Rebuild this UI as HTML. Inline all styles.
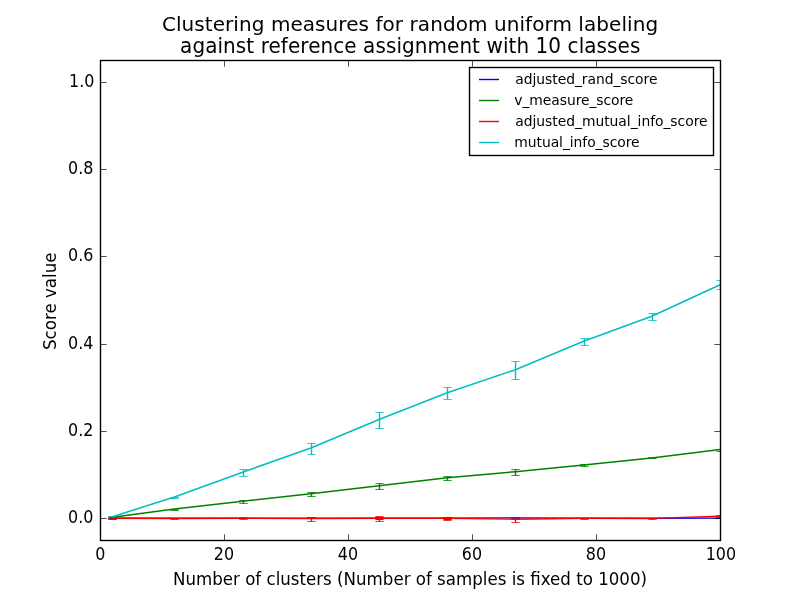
<!DOCTYPE html>
<html><head><meta charset="utf-8"><title>Clustering measures</title>
<style>
html,body{margin:0;padding:0;background:#fff;}
svg{display:block;}
text{font-family:"DejaVu Sans","Liberation Sans",sans-serif;fill:#000;}
.t12{font-size:16.67px;}
.t14{font-size:20px;}
.t10{font-size:13.89px;}
</style></head><body>
<svg width="800" height="600" viewBox="0 0 800 600">
<defs><clipPath id="axclip"><rect x="100.5" y="60.5" width="620" height="480"/></clipPath></defs>
<rect width="800" height="600" fill="#fff"/>
<g clip-path="url(#axclip)">
<polyline points="112.40,518.15 174.40,518.15 242.60,518.15 310.80,518.15 379.00,518.15 447.20,518.15 515.40,517.90 583.60,518.15 651.80,518.20 720.00,518.10" fill="none" stroke="#0000ff" stroke-width="1.39" stroke-linejoin="round"/>
<path d="M112.50 518.50V519.50M174.50 518.50V518.50M243.50 518.50V518.50M311.50 517.50V518.50M379.50 517.50V519.50M447.50 517.50V519.50M515.50 517.50V518.50M584.50 518.50V518.50M652.50 518.50V518.50M720.50 518.50V518.50" fill="none" stroke="#0000ff" stroke-width="1.39"/>
<path d="M108.33 518.50h8.34M108.33 519.50h8.34M170.33 518.50h8.34M170.33 518.50h8.34M239.33 518.50h8.34M239.33 518.50h8.34M307.33 517.50h8.34M307.33 518.50h8.34M375.33 517.50h8.34M375.33 519.50h8.34M443.33 517.50h8.34M443.33 519.50h8.34M511.33 517.50h8.34M511.33 518.50h8.34M580.33 518.50h8.34M580.33 518.50h8.34M648.33 518.50h8.34M648.33 518.50h8.34M716.33 518.50h8.34M716.33 518.50h8.34" fill="none" stroke="#0000ff" stroke-width="0.8"/>
<polyline points="112.40,517.30 174.40,508.90 242.60,501.30 310.80,493.70 379.00,485.70 447.20,477.80 515.40,471.70 583.60,465.10 651.80,457.90 720.00,449.60" fill="none" stroke="#008000" stroke-width="1.5" stroke-linejoin="round"/>
<path d="M112.50 517.50V517.50M174.50 509.50V510.50M243.50 500.50V503.50M311.50 492.50V496.50M379.50 483.50V489.50M447.50 476.50V480.50M515.50 469.50V475.50M584.50 464.50V466.50M652.50 457.50V458.50M720.50 449.50V451.50" fill="none" stroke="#008000" stroke-width="1.39"/>
<path d="M108.33 517.50h8.34M108.33 517.50h8.34M170.33 509.50h8.34M170.33 510.50h8.34M239.33 500.50h8.34M239.33 503.50h8.34M307.33 492.50h8.34M307.33 496.50h8.34M375.33 483.50h8.34M375.33 489.50h8.34M443.33 476.50h8.34M443.33 480.50h8.34M511.33 469.50h8.34M511.33 475.50h8.34M580.33 464.50h8.34M580.33 466.50h8.34M648.33 457.50h8.34M648.33 458.50h8.34M716.33 449.50h8.34M716.33 451.50h8.34" fill="none" stroke="#008000" stroke-width="0.8"/>
<polyline points="112.40,518.30 174.40,518.40 242.60,518.30 310.80,518.60 379.00,518.30 447.20,518.30 515.40,519.20 583.60,518.30 651.80,518.40 720.00,516.20" fill="none" stroke="#ff0000" stroke-width="1.45" stroke-linejoin="round"/>
<path d="M112.50 518.50V519.50M174.50 518.50V519.50M243.50 517.50V519.50M311.50 517.50V521.50M379.50 516.50V521.50M447.50 517.50V520.50M515.50 517.50V522.50M584.50 518.50V519.50M652.50 518.50V519.50M720.50 515.50V517.50" fill="none" stroke="#ff0000" stroke-width="1.39"/>
<path d="M108.33 518.50h8.34M108.33 519.50h8.34M170.33 518.50h8.34M170.33 519.50h8.34M239.33 517.50h8.34M239.33 519.50h8.34M307.33 517.50h8.34M307.33 521.50h8.34M375.33 516.50h8.34M375.33 521.50h8.34M443.33 517.50h8.34M443.33 520.50h8.34M511.33 517.50h8.34M511.33 522.50h8.34M580.33 518.50h8.34M580.33 519.50h8.34M648.33 518.50h8.34M648.33 519.50h8.34M716.33 515.50h8.34M716.33 517.50h8.34" fill="none" stroke="#ff0000" stroke-width="0.8"/>
<polyline points="112.40,516.70 174.40,497.00 242.60,472.20 310.80,448.00 379.00,419.50 447.20,392.80 515.40,369.70 583.60,341.30 651.80,316.20 720.00,284.80" fill="none" stroke="#00bfbf" stroke-width="1.5" stroke-linejoin="round"/>
<path d="M112.50 516.50V516.50M174.50 497.50V498.50M243.50 469.50V476.50M311.50 443.50V454.50M379.50 412.50V428.50M447.50 387.50V399.50M515.50 361.50V379.50M584.50 338.50V345.50M652.50 313.50V320.50M720.50 280.50V289.50" fill="none" stroke="#00bfbf" stroke-width="1.39"/>
<path d="M108.33 516.50h8.34M108.33 516.50h8.34M170.33 497.50h8.34M170.33 498.50h8.34M239.33 469.50h8.34M239.33 476.50h8.34M307.33 443.50h8.34M307.33 454.50h8.34M375.33 412.50h8.34M375.33 428.50h8.34M443.33 387.50h8.34M443.33 399.50h8.34M511.33 361.50h8.34M511.33 379.50h8.34M580.33 338.50h8.34M580.33 345.50h8.34M648.33 313.50h8.34M648.33 320.50h8.34M716.33 280.50h8.34M716.33 289.50h8.34" fill="none" stroke="#00bfbf" stroke-width="0.8"/>
</g>
<path d="M100.50 540.5v-6.2M100.50 60.5v6.2M224.50 540.5v-6.2M224.50 60.5v6.2M348.50 540.5v-6.2M348.50 60.5v6.2M472.50 540.5v-6.2M472.50 60.5v6.2M596.50 540.5v-6.2M596.50 60.5v6.2M720.50 540.5v-6.2M720.50 60.5v6.2M100.5 518.50h6.2M720.5 518.50h-6.2M100.5 431.50h6.2M720.5 431.50h-6.2M100.5 344.50h6.2M720.5 344.50h-6.2M100.5 256.50h6.2M720.5 256.50h-6.2M100.5 169.50h6.2M720.5 169.50h-6.2M100.5 82.50h6.2M720.5 82.50h-6.2" stroke="#000" stroke-width="0.69" fill="none"/>
<rect x="100.5" y="60.5" width="620" height="480" fill="none" stroke="#000" stroke-width="1.389"/>
<text class="t12" transform="translate(100.20,560.00) scale(0.955,1.08)" text-anchor="middle">0</text>
<text class="t12" transform="translate(224.00,560.00) scale(0.955,1.08)" text-anchor="middle">20</text>
<text class="t12" transform="translate(347.90,560.00) scale(0.955,1.08)" text-anchor="middle">40</text>
<text class="t12" transform="translate(472.00,560.00) scale(0.955,1.08)" text-anchor="middle">60</text>
<text class="t12" transform="translate(596.00,560.00) scale(0.955,1.08)" text-anchor="middle">80</text>
<text class="t12" transform="translate(720.90,560.00) scale(0.955,1.08)" text-anchor="middle">100</text>
<text class="t12" transform="translate(93.50,523.05) scale(0.958,1.08)" text-anchor="end">0.0</text>
<text class="t12" transform="translate(93.50,436.05) scale(0.958,1.08)" text-anchor="end">0.2</text>
<text class="t12" transform="translate(93.50,349.05) scale(0.958,1.08)" text-anchor="end">0.4</text>
<text class="t12" transform="translate(93.50,261.05) scale(0.958,1.08)" text-anchor="end">0.6</text>
<text class="t12" transform="translate(93.50,174.05) scale(0.958,1.08)" text-anchor="end">0.8</text>
<text class="t12" transform="translate(94.50,87.05) scale(0.958,1.08)" text-anchor="end">1.0</text>
<text class="t12" transform="translate(410.00,584.90) scale(1.0,1.085)" text-anchor="middle">Number of clusters (Number of samples is fixed to 1000)</text>
<text class="t12" transform="translate(56.20,301.30) rotate(-90) scale(1.0,1.1)" text-anchor="middle">Score value</text>
<text class="t14" transform="translate(410.00,30.80)" text-anchor="middle" textLength="496.17" lengthAdjust="spacing">Clustering measures for random uniform labeling</text>
<text class="t14" transform="translate(410.20,52.60) scale(1.0,1.02)" text-anchor="middle" textLength="460.28" lengthAdjust="spacing">against reference assignment with 10 classes</text>
<rect x="469.5" y="67.5" width="244" height="88" fill="#fff" stroke="#000" stroke-width="1.389"/>
<path d="M479 79.50H499" stroke="#0000ff" stroke-width="1.39" fill="none"/>
<text class="t10" x="515.25" y="83.80" textLength="142.2" lengthAdjust="spacing">adjusted_rand_score</text>
<path d="M479 100.50H499" stroke="#008000" stroke-width="1.39" fill="none"/>
<text class="t10" x="514.3" y="104.70" textLength="119.1" lengthAdjust="spacing">v_measure_score</text>
<path d="M479 121.50H499" stroke="#ff0000" stroke-width="1.39" fill="none"/>
<text class="t10" x="515.25" y="125.60" textLength="192.3" lengthAdjust="spacing">adjusted_mutual_info_score</text>
<path d="M479 142.50H499" stroke="#00bfbf" stroke-width="1.39" fill="none"/>
<text class="t10" x="514.3" y="146.50" textLength="125.3" lengthAdjust="spacing">mutual_info_score</text>
</svg>
</body></html>
